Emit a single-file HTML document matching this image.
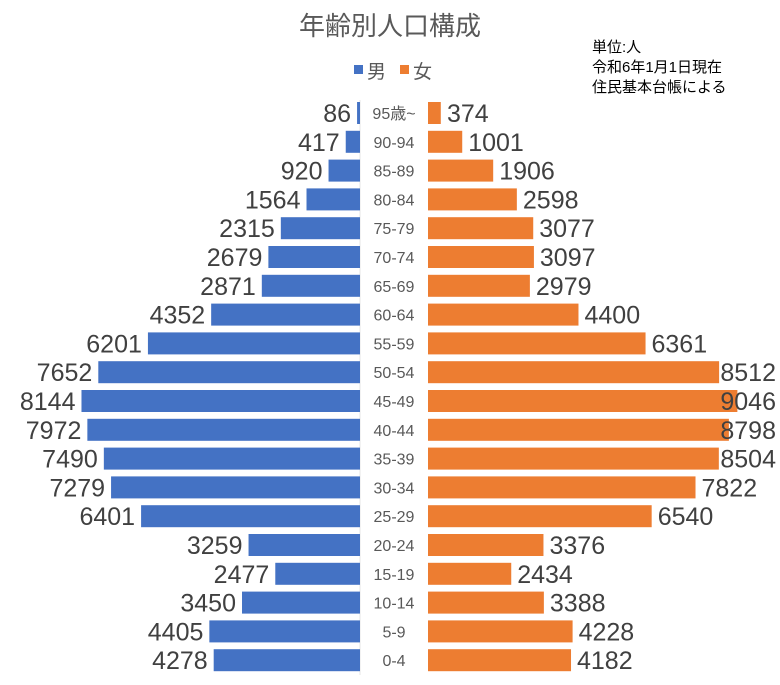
<!DOCTYPE html>
<html><head><meta charset="utf-8"><style>
html,body{margin:0;padding:0;background:#fff;}
svg{display:block;font-family:"Liberation Sans","Noto Sans CJK JP",sans-serif;}
.m{fill:#4472C4}.f{fill:#ED7D31}
.c{font-size:16px;fill:#595959;text-anchor:middle}
.v{font-size:25px;fill:#404040}
.e{text-anchor:end}
</style></head><body>
<svg width="780" height="685" viewBox="0 0 780 685" xmlns="http://www.w3.org/2000/svg">
<rect width="780" height="685" fill="#fff"/>
<text x="390" y="35" text-anchor="middle" font-size="26" fill="#595959">年齢別人口構成</text>
<rect x="354" y="65" width="9" height="9" fill="#4472C4"/>
<text x="367" y="78" font-size="19" fill="#595959">男</text>
<rect x="400" y="65" width="9" height="9" fill="#ED7D31"/>
<text x="413" y="78" font-size="19" fill="#595959">女</text>
<g font-size="15" fill="#000">
<text x="592" y="52">単位:人</text>
<text x="592" y="72">令和6年1月1日現在</text>
<text x="592" y="92">住民基本台帳による</text>
</g>
<line x1="360" y1="100" x2="360" y2="675" stroke="#e6e6e6"/>

<rect class="m" x="357.06" y="102" width="2.94" height="22"/><rect class="f" x="428" y="102" width="12.79" height="22"/>
<text class="c" x="394" y="119">95歳~</text><text class="v e" x="351" y="122">86</text><text class="v" x="447" y="122">374</text>

<rect class="m" x="345.74" y="130.8" width="14.26" height="22"/><rect class="f" x="428" y="130.8" width="34.23" height="22"/>
<text class="c" x="394" y="147.8">90-94</text><text class="v e" x="339.7" y="150.8">417</text><text class="v" x="468.2" y="150.8">1001</text>

<rect class="m" x="328.54" y="159.6" width="31.46" height="22"/><rect class="f" x="428" y="159.6" width="65.19" height="22"/>
<text class="c" x="394" y="176.6">85-89</text><text class="v e" x="322.5" y="179.6">920</text><text class="v" x="499.2" y="179.6">1906</text>

<rect class="m" x="306.51" y="188.4" width="53.49" height="22"/><rect class="f" x="428" y="188.4" width="88.85" height="22"/>
<text class="c" x="394" y="205.4">80-84</text><text class="v e" x="300.5" y="208.4">1564</text><text class="v" x="522.9" y="208.4">2598</text>

<rect class="m" x="280.83" y="217.2" width="79.17" height="22"/><rect class="f" x="428" y="217.2" width="105.23" height="22"/>
<text class="c" x="394" y="234.2">75-79</text><text class="v e" x="274.8" y="237.2">2315</text><text class="v" x="539.2" y="237.2">3077</text>

<rect class="m" x="268.38" y="246" width="91.62" height="22"/><rect class="f" x="428" y="246" width="105.92" height="22"/>
<text class="c" x="394" y="263">70-74</text><text class="v e" x="262.4" y="266">2679</text><text class="v" x="539.9" y="266">3097</text>

<rect class="m" x="261.81" y="274.8" width="98.19" height="22"/><rect class="f" x="428" y="274.8" width="101.88" height="22"/>
<text class="c" x="394" y="291.8">65-69</text><text class="v e" x="255.8" y="294.8">2871</text><text class="v" x="535.9" y="294.8">2979</text>

<rect class="m" x="211.16" y="303.6" width="148.84" height="22"/><rect class="f" x="428" y="303.6" width="150.48" height="22"/>
<text class="c" x="394" y="320.6">60-64</text><text class="v e" x="205.2" y="323.6">4352</text><text class="v" x="584.5" y="323.6">4400</text>

<rect class="m" x="147.93" y="332.4" width="212.07" height="22"/><rect class="f" x="428" y="332.4" width="217.55" height="22"/>
<text class="c" x="394" y="349.4">55-59</text><text class="v e" x="141.9" y="352.4">6201</text><text class="v" x="651.5" y="352.4">6361</text>

<rect class="m" x="98.3" y="361.2" width="261.7" height="22"/><rect class="f" x="428" y="361.2" width="291.11" height="22"/>
<text class="c" x="394" y="378.2">50-54</text><text class="v e" x="92.3" y="381.2">7652</text><text class="v e" x="776" y="381.2">8512</text>

<rect class="m" x="81.48" y="390" width="278.52" height="22"/><rect class="f" x="428" y="390" width="309.37" height="22"/>
<text class="c" x="394" y="407">45-49</text><text class="v e" x="75.5" y="410">8144</text><text class="v e" x="776" y="410">9046</text>

<rect class="m" x="87.36" y="418.8" width="272.64" height="22"/><rect class="f" x="428" y="418.8" width="300.89" height="22"/>
<text class="c" x="394" y="435.8">40-44</text><text class="v e" x="81.4" y="438.8">7972</text><text class="v e" x="776" y="438.8">8798</text>

<rect class="m" x="103.84" y="447.6" width="256.16" height="22"/><rect class="f" x="428" y="447.6" width="290.84" height="22"/>
<text class="c" x="394" y="464.6">35-39</text><text class="v e" x="97.8" y="467.6">7490</text><text class="v e" x="776" y="467.6">8504</text>

<rect class="m" x="111.06" y="476.4" width="248.94" height="22"/><rect class="f" x="428" y="476.4" width="267.51" height="22"/>
<text class="c" x="394" y="493.4">30-34</text><text class="v e" x="105.1" y="496.4">7279</text><text class="v" x="701.5" y="496.4">7822</text>

<rect class="m" x="141.09" y="505.2" width="218.91" height="22"/><rect class="f" x="428" y="505.2" width="223.67" height="22"/>
<text class="c" x="394" y="522.2">25-29</text><text class="v e" x="135.1" y="525.2">6401</text><text class="v" x="657.7" y="525.2">6540</text>

<rect class="m" x="248.54" y="534" width="111.46" height="22"/><rect class="f" x="428" y="534" width="115.46" height="22"/>
<text class="c" x="394" y="551">20-24</text><text class="v e" x="242.5" y="554">3259</text><text class="v" x="549.5" y="554">3376</text>

<rect class="m" x="275.29" y="562.8" width="84.71" height="22"/><rect class="f" x="428" y="562.8" width="83.24" height="22"/>
<text class="c" x="394" y="579.8">15-19</text><text class="v e" x="269.3" y="582.8">2477</text><text class="v" x="517.2" y="582.8">2434</text>

<rect class="m" x="242.01" y="591.6" width="117.99" height="22"/><rect class="f" x="428" y="591.6" width="115.87" height="22"/>
<text class="c" x="394" y="608.6">10-14</text><text class="v e" x="236" y="611.6">3450</text><text class="v" x="549.9" y="611.6">3388</text>

<rect class="m" x="209.35" y="620.4" width="150.65" height="22"/><rect class="f" x="428" y="620.4" width="144.6" height="22"/>
<text class="c" x="394" y="637.4">5-9</text><text class="v e" x="203.4" y="640.4">4405</text><text class="v" x="578.6" y="640.4">4228</text>

<rect class="m" x="213.69" y="649.2" width="146.31" height="22"/><rect class="f" x="428" y="649.2" width="143.02" height="22"/>
<text class="c" x="394" y="666.2">0-4</text><text class="v e" x="207.7" y="669.2">4278</text><text class="v" x="577" y="669.2">4182</text>
</svg>
</body></html>
